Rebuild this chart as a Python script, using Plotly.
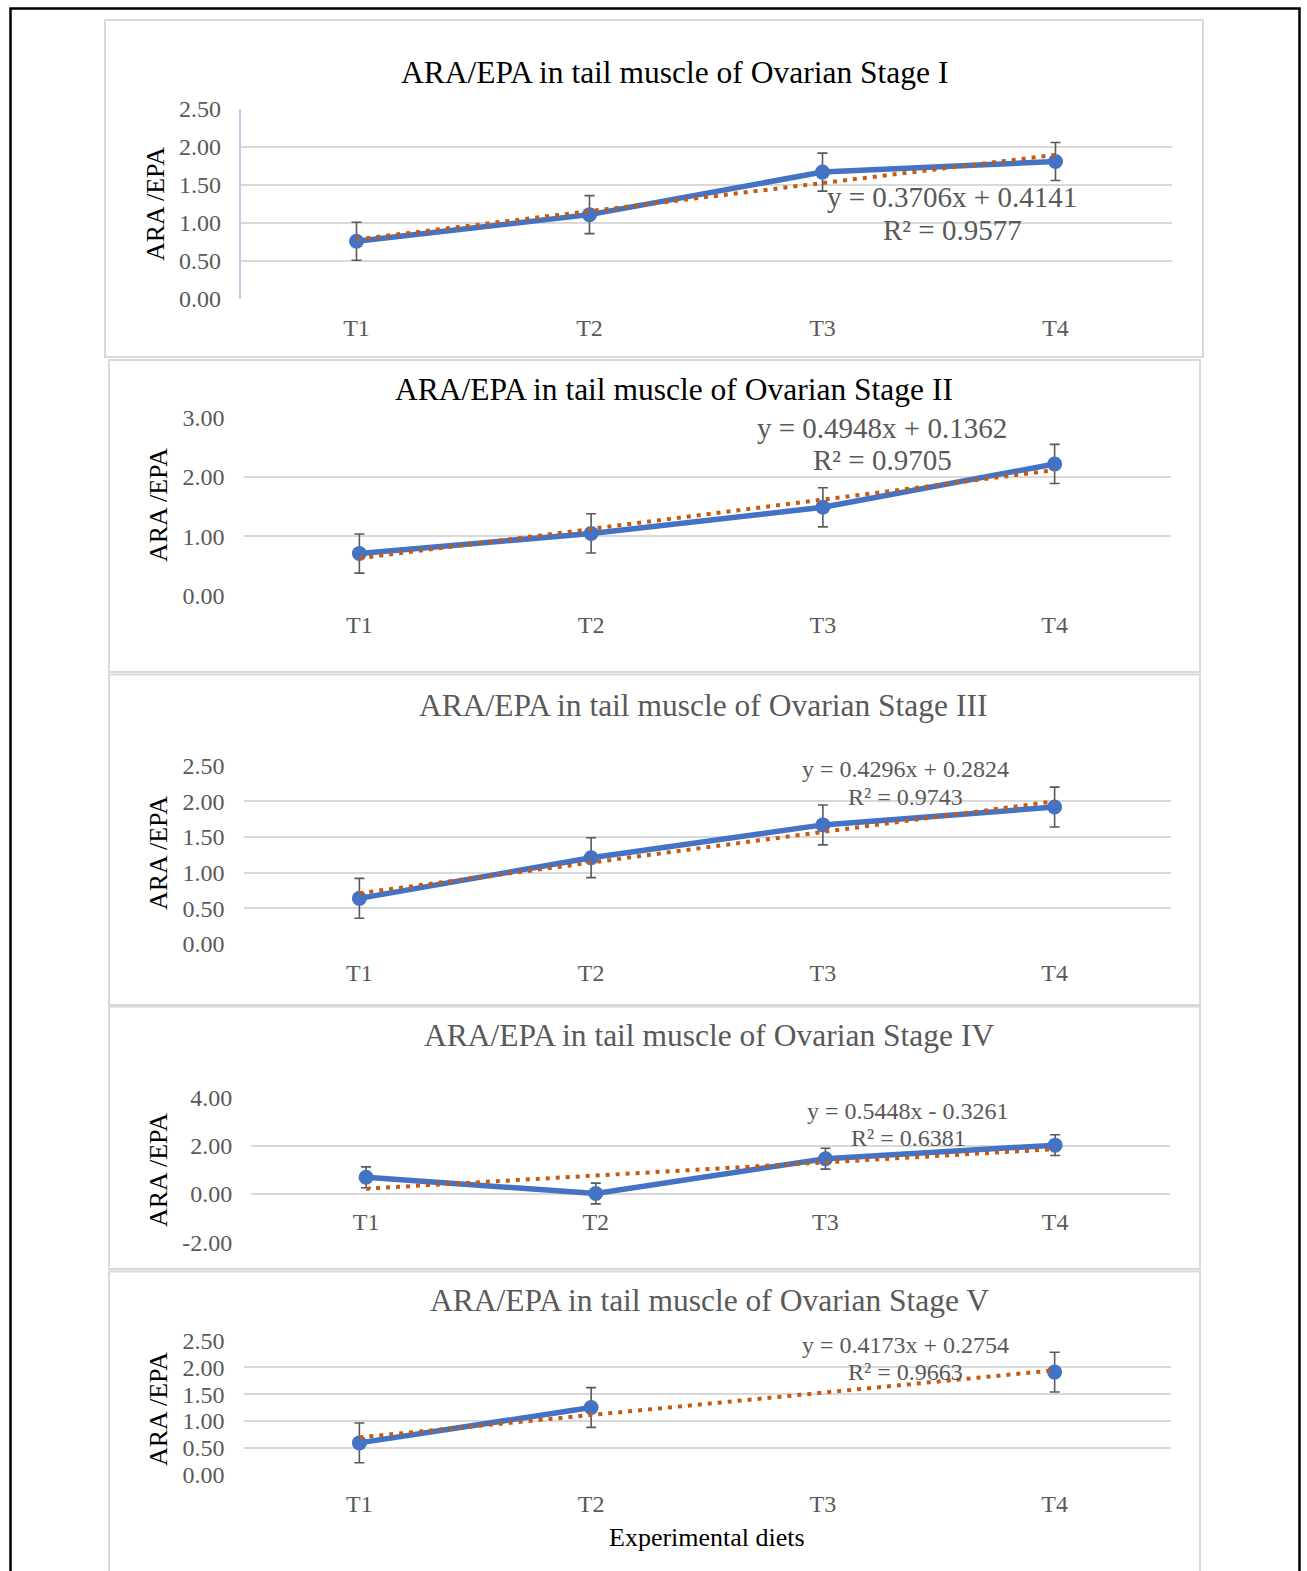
import plotly.graph_objects as go

W, H = 1307, 1571

# ---------------- data ----------------
categories = ["T1", "T2", "T3", "T4"]

titles = [
    "ARA/EPA in tail muscle of Ovarian Stage I",
    "ARA/EPA in tail muscle of Ovarian Stage II",
    "ARA/EPA in tail muscle of Ovarian Stage III",
    "ARA/EPA in tail muscle of Ovarian Stage IV",
    "ARA/EPA in tail muscle of Ovarian Stage V",
]

stage1_values = [0.76, 1.11, 1.67, 1.81]
stage1_errors = [0.25, 0.25, 0.25, 0.25]

stage2_values = [0.71, 1.05, 1.49, 2.22]
stage2_errors = [0.33, 0.33, 0.33, 0.33]

stage3_values = [0.64, 1.21, 1.67, 1.92]
stage3_errors = [0.28, 0.28, 0.28, 0.28]

stage4_values = [0.69, 0.02, 1.46, 2.02]
stage4_errors = [0.43, 0.43, 0.43, 0.43]

stage5_values = [0.59, 1.25, None, 1.91]
stage5_errors = [0.37, 0.37, None, 0.37]

trend_slopes = [0.3706, 0.4948, 0.4296, 0.5448, 0.4173]
trend_intercepts = [0.4141, 0.1362, 0.2824, -0.3261, 0.2754]

eq_labels = [
    "y = 0.3706x + 0.4141",
    "y = 0.4948x + 0.1362",
    "y = 0.4296x + 0.2824",
    "y = 0.5448x - 0.3261",
    "y = 0.4173x + 0.2754",
]
r2_labels = ["R² = 0.9577", "R² = 0.9705", "R² = 0.9743", "R² = 0.6381", "R² = 0.9663"]

y_ranges = [[0, 2.5], [0, 3], [0, 2.5], [-2, 4], [0, 2.5]]
y_tickvals = [
    [0, 0.5, 1.0, 1.5, 2.0, 2.5],
    [0, 1, 2, 3],
    [0, 0.5, 1.0, 1.5, 2.0, 2.5],
    [-2, 0, 2, 4],
    [0, 0.5, 1.0, 1.5, 2.0, 2.5],
]
y_ticktext = [
    ["0.00", "0.50", "1.00", "1.50", "2.00", "2.50"],
    ["0.00", "1.00", "2.00", "3.00"],
    ["0.00", "0.50", "1.00", "1.50", "2.00", "2.50"],
    ["-2.00", "0.00", "2.00", "4.00"],
    ["0.00", "0.50", "1.00", "1.50", "2.00", "2.50"],
]

y_title = "ARA /EPA"
x_title = "Experimental diets"

values = [stage1_values, stage2_values, stage3_values, stage4_values, stage5_values]
errors = [stage1_errors, stage2_errors, stage3_errors, stage4_errors, stage5_errors]

# ---------------- layout geometry (pixels) ----------------
plot_px = [
    (240, 1172, 109, 299),
    (243.5, 1170.5, 417.7, 595.7),
    (243.5, 1170.5, 765.7, 944),
    (251.2, 1170, 1097.3, 1242.3),
    (243.5, 1170.5, 1340.5, 1474.5),
]
panel_boxes = [
    (105, 1203, 20, 357),
    (109, 1200, 360, 672),
    (109, 1200, 674.5, 1005),
    (109, 1200, 1006.5, 1269),
    (109, 1200, 1271.5, 1600),
]
title_pos = [(674.5, 72.5), (673.5, 389), (703, 705), (708.5, 1035), (709, 1300)]
title_colors = ["#000000", "#000000", "#595959", "#595959", "#595959"]
ytitle_pos = [(155, 204), (158, 505), (158, 853), (158, 1170), (158, 1409)]
eq_pos = [(952, 197, 230), (882, 428, 460), (905, 769, 797), (908, 1111, 1138), (905, 1345, 1372)]
eq_sizes = [29, 29, 24, 24, 24]

FONT = "Liberation Serif"
GRAY = "#595959"
BLUE = "#4472C4"
ORANGE = "#C55A11"
GRID = "#D9D9D9"


def px_x(p):
    return p / W


def px_y(p):
    return 1 - p / H


fig = go.Figure()
layout = dict(
    width=W, height=H, autosize=False,
    margin=dict(l=0, r=0, t=0, b=0, pad=0, autoexpand=False),
    paper_bgcolor="white", plot_bgcolor="white",
    showlegend=False,
    font=dict(family=FONT, color=GRAY),
)
annotations = []
shapes = []

for i in range(5):
    n = "" if i == 0 else str(i + 1)
    xa, ya = "x" + n, "y" + n
    x0, x1, y0, y1 = plot_px[i]

    fig.add_trace(go.Scatter(
        x=categories, y=values[i], xaxis=xa, yaxis=ya,
        mode="lines+markers", connectgaps=False,
        line=dict(color=BLUE, width=5.5),
        marker=dict(color=BLUE, size=15),
        error_y=dict(type="data", array=errors[i], color=GRAY, thickness=1.6, width=5),
        cliponaxis=False,
    ))
    trend_y = [trend_slopes[i] * (k + 1) + trend_intercepts[i] for k in range(len(categories))]
    fig.add_trace(go.Scatter(
        x=categories, y=trend_y, xaxis=xa, yaxis=ya, mode="lines",
        line=dict(color=ORANGE, width=4, dash="4px,6px"),
        cliponaxis=False,
    ))

    xaxis = dict(
        domain=[px_x(x0), px_x(x1)], type="category", range=[-0.5, 3.5],
        showgrid=False, zeroline=False, showline=False, ticks="",
        tickfont=dict(family=FONT, size=24, color=GRAY),
        ticklabelstandoff=12, fixedrange=True, automargin=False,
    )
    if i == 3:
        xaxis.update(anchor="free", position=px_y(1193.3))
    else:
        xaxis.update(anchor=ya)
    yaxis = dict(
        domain=[px_y(y1), px_y(y0)], range=y_ranges[i],
        tickmode="array", tickvals=y_tickvals[i], ticktext=y_ticktext[i],
        showgrid=True, gridcolor=GRID, gridwidth=1.6,
        zeroline=False, showline=False, ticks="",
        tickfont=dict(family=FONT, size=24, color=GRAY),
        ticklabelstandoff=18, anchor=xa, fixedrange=True, automargin=False,
    )
    layout["xaxis" + n] = xaxis
    layout["yaxis" + n] = yaxis

    # panel box
    bx0, bx1, by0, by1 = panel_boxes[i]
    shapes.append(dict(type="rect", xref="paper", yref="paper",
                       x0=px_x(bx0), x1=px_x(bx1), y0=px_y(by1), y1=px_y(by0),
                       line=dict(color=GRID, width=2), layer="below"))

    # title
    tx, ty = title_pos[i]
    annotations.append(dict(text=titles[i], xref="paper", yref="paper",
                            x=px_x(tx), y=px_y(ty), xanchor="center", yanchor="middle",
                            showarrow=False, font=dict(family=FONT, size=31.5, color=title_colors[i])))
    # y title
    yx, yy = ytitle_pos[i]
    annotations.append(dict(text=y_title, xref="paper", yref="paper",
                            x=px_x(yx), y=px_y(yy), xanchor="center", yanchor="middle",
                            textangle=-90, showarrow=False,
                            font=dict(family=FONT, size=26, color="#000000")))
    # equation
    ex, ey1, ey2 = eq_pos[i]
    annotations.append(dict(text=eq_labels[i], xref="paper", yref="paper",
                            x=px_x(ex), y=px_y(ey1), xanchor="center", yanchor="middle",
                            showarrow=False, font=dict(family=FONT, size=eq_sizes[i], color=GRAY)))
    annotations.append(dict(text=r2_labels[i], xref="paper", yref="paper",
                            x=px_x(ex), y=px_y(ey2), xanchor="center", yanchor="middle",
                            showarrow=False, font=dict(family=FONT, size=eq_sizes[i], color=GRAY)))

# light blue vertical axis line in first panel
shapes.append(dict(type="line", xref="paper", yref="paper",
                   x0=px_x(240), x1=px_x(240), y0=px_y(299), y1=px_y(109),
                   line=dict(color="#BDD0EE", width=2)))

# x axis title
annotations.append(dict(text=x_title, xref="paper", yref="paper",
                        x=px_x(707), y=px_y(1537), xanchor="center", yanchor="middle",
                        showarrow=False, font=dict(family=FONT, size=26, color="#000000")))

# outer black frame
shapes.append(dict(type="rect", xref="paper", yref="paper",
                   x0=px_x(10.5), x1=px_x(1299.5), y0=px_y(1620), y1=px_y(8.5),
                   line=dict(color="#000000", width=2.5)))

layout["annotations"] = annotations
layout["shapes"] = shapes
fig.update_layout(**layout)

fig.write_html(
    "out.html",
    config={"displayModeBar": False},
    post_script="document.body.style.margin='0';document.body.style.overflow='hidden';",
)
